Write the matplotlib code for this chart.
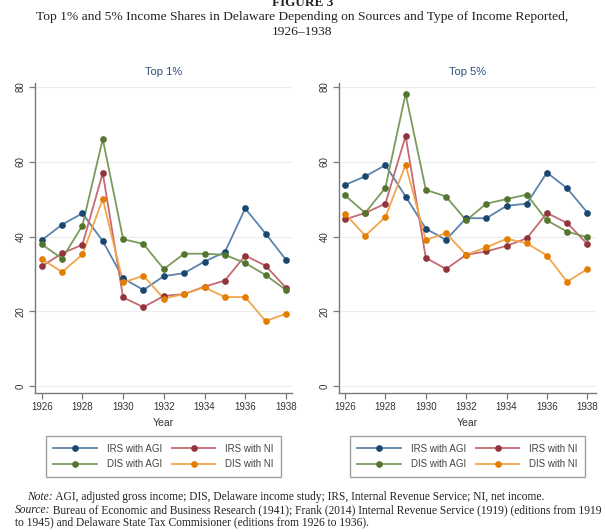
"""Top 1% and 5% income shares in Delaware, 1926-1938 (Stata-style two-panel figure)."""

import matplotlib
matplotlib.use("Agg")
import matplotlib.pyplot as plt
from matplotlib.lines import Line2D

years = list(range(1926, 1939))

# Top 1%
top1_irs_agi = [39.0, 43.2, 46.2, 38.8, 28.8, 25.7, 29.4, 30.2, 33.3, 35.8, 47.5, 40.8, 33.8]
top1_irs_ni = [32.0, 35.5, 37.8, 57.0, 23.7, 21.1, 24.1, 24.6, 26.6, 28.2, 34.9, 32.2, 26.3]
top1_dis_agi = [37.9, 34.1, 42.9, 66.1, 39.3, 38.0, 31.3, 35.4, 35.4, 35.1, 32.9, 29.7, 25.7]
top1_dis_ni = [34.0, 30.5, 35.2, 50.0, 27.7, 29.5, 23.4, 24.6, 26.4, 23.8, 23.8, 17.4, 19.3]

# Top 5%
top5_irs_agi = [53.8, 56.1, 59.1, 50.7, 42.1, 39.1, 44.9, 44.9, 48.2, 48.8, 57.1, 52.9, 46.4]
top5_irs_ni = [44.6, 46.3, 48.8, 66.9, 34.3, 31.3, 35.1, 36.0, 37.5, 39.5, 46.3, 43.6, 38.0]
top5_dis_agi = [51.0, 46.3, 53.1, 78.2, 52.5, 50.7, 44.3, 48.8, 50.0, 51.2, 44.3, 41.3, 39.8]
top5_dis_ni = [46.1, 40.2, 45.2, 59.2, 39.1, 40.9, 35.1, 37.1, 39.4, 38.2, 34.9, 27.9, 31.3]

series_labels = ["IRS with AGI", "IRS with NI", "DIS with AGI", "DIS with NI"]
panel_titles = ["Top 1%", "Top 5%"]
yticks = [0, 20, 40, 60, 80]
xticks = list(range(1926, 1939, 2))

# (line colour, marker colour) - Stata s2color look, lines appear washed out
styles = [("#5b84ad", "#1a476f"), ("#c46a72", "#90353b"),
          ("#7c9a5c", "#55752f"), ("#f2a54a", "#e37e00")]

SANS = "Liberation Sans"
SERIF = "Liberation Serif"
TITLE_BLUE = "#2c4f78"
AXIS_GREY = "#7a7a7a"

plt.rcParams["font.family"] = [SANS, "DejaVu Sans"]

fig = plt.figure(figsize=(6.05, 5.32), dpi=100)
fig.patch.set_facecolor("white")

W, H = 605.0, 532.0
panels = [
    (panel_titles[0], [top1_irs_agi, top1_irs_ni, top1_dis_agi, top1_dis_ni], 35, 1925.67, 1938.3),
    (panel_titles[1], [top5_irs_agi, top5_irs_ni, top5_dis_agi, top5_dis_ni], 339, 1925.7, 1938.43),
]

for title, data, left_px, x0, x1 in panels:
    ax = fig.add_axes([left_px / W, 1 - 393 / H, 257 / W, 310 / H])
    ax.set_xlim(x0, x1)
    ax.set_ylim(-1.87, 81.07)
    for vals, (lc, mc) in zip(data, styles):
        ax.plot(years, vals, color=lc, lw=1.3, zorder=2)
        ax.plot(years, vals, ls="none", marker="o", ms=3.8, color=mc,
                markeredgecolor=mc, zorder=3)
    ax.set_yticks(yticks)
    ax.set_xticks(xticks)
    ax.grid(axis="y", color="#ececec", lw=0.8, zorder=0)
    ax.set_axisbelow(True)
    for side in ("top", "right"):
        ax.spines[side].set_visible(False)
    for side in ("left", "bottom"):
        ax.spines[side].set_color(AXIS_GREY)
        ax.spines[side].set_linewidth(1.0)
    ax.tick_params(axis="both", colors=AXIS_GREY, length=4, width=0.9, direction="out",
                   labelcolor="#333333", labelsize=7, pad=2.5)
    plt.setp(ax.get_yticklabels(), rotation=90, va="center")
    ax.set_xlabel("Year", fontsize=7.5, color="#333333", labelpad=4)
    ax.set_title(title, fontsize=8, color=TITLE_BLUE, pad=6)

    # legend: IRS row on top, DIS row underneath
    handles = [Line2D([], [], color=lc, lw=1.3, marker="o", ms=3.8,
                      markerfacecolor=mc, markeredgecolor=mc)
               for lc, mc in styles]
    order = [0, 2, 1, 3]
    cx = (left_px + 6 + 245 / 2) / W
    leg = fig.legend([handles[i] for i in order], [series_labels[i] for i in order],
                     ncol=2, loc="center", bbox_to_anchor=(cx, 1 - 456.5 / H),
                     prop={"size": 7}, handlelength=4.5,
                     numpoints=1, frameon=True, fancybox=False, borderpad=0.75,
                     borderaxespad=0, labelspacing=0.6, columnspacing=1.0,
                     handletextpad=1.0)
    leg.get_frame().set_edgecolor("#8a8a8a")
    leg.get_frame().set_linewidth(1.0)
    for t in leg.get_texts():
        t.set_color("#444444")

# headings
fig.text(0.5, 1 - 3 / H, "FIGURE 3", ha="center", va="center", fontsize=9.5,
         fontfamily=SERIF, fontweight="bold", color="#222222")
fig.text(0.5, 1 - 17 / H,
         "Top 1% and 5% Income Shares in Delaware Depending on Sources and Type of Income Reported,",
         ha="center", va="center", fontsize=9.7, fontfamily=SERIF, color="#222222")
fig.text(0.5, 1 - 32 / H, "1926\u20131938", ha="center", va="center", fontsize=9.7,
         fontfamily=SERIF, color="#222222")

# notes with italic lead words
note_rows = [
    (27, 497, "Note:", " AGI, adjusted gross income; DIS, Delaware income study; IRS, Internal Revenue Service; NI, net income."),
    (15, 510, "Source:", " Bureau of Economic and Business Research (1941); Frank (2014) Internal Revenue Service (1919) (editions from 1919"),
    (15, 522, "", "to 1945) and Delaware State Tax Commisioner (editions from 1926 to 1936)."),
]
renderer = fig.canvas.get_renderer()
for x_px, y_px, lead, rest in note_rows:
    x = x_px / W
    if lead:
        t = fig.text(x, 1 - y_px / H, lead, ha="left", va="center", fontsize=8.3,
                     fontfamily=SERIF, fontstyle="italic", color="#222222")
        bb = t.get_window_extent(renderer=renderer)
        x = bb.x1 / fig.bbox.width
    fig.text(x, 1 - y_px / H, rest, ha="left", va="center", fontsize=8.3,
             fontfamily=SERIF, color="#222222")

fig.savefig("out.png", dpi=100, facecolor="white")
